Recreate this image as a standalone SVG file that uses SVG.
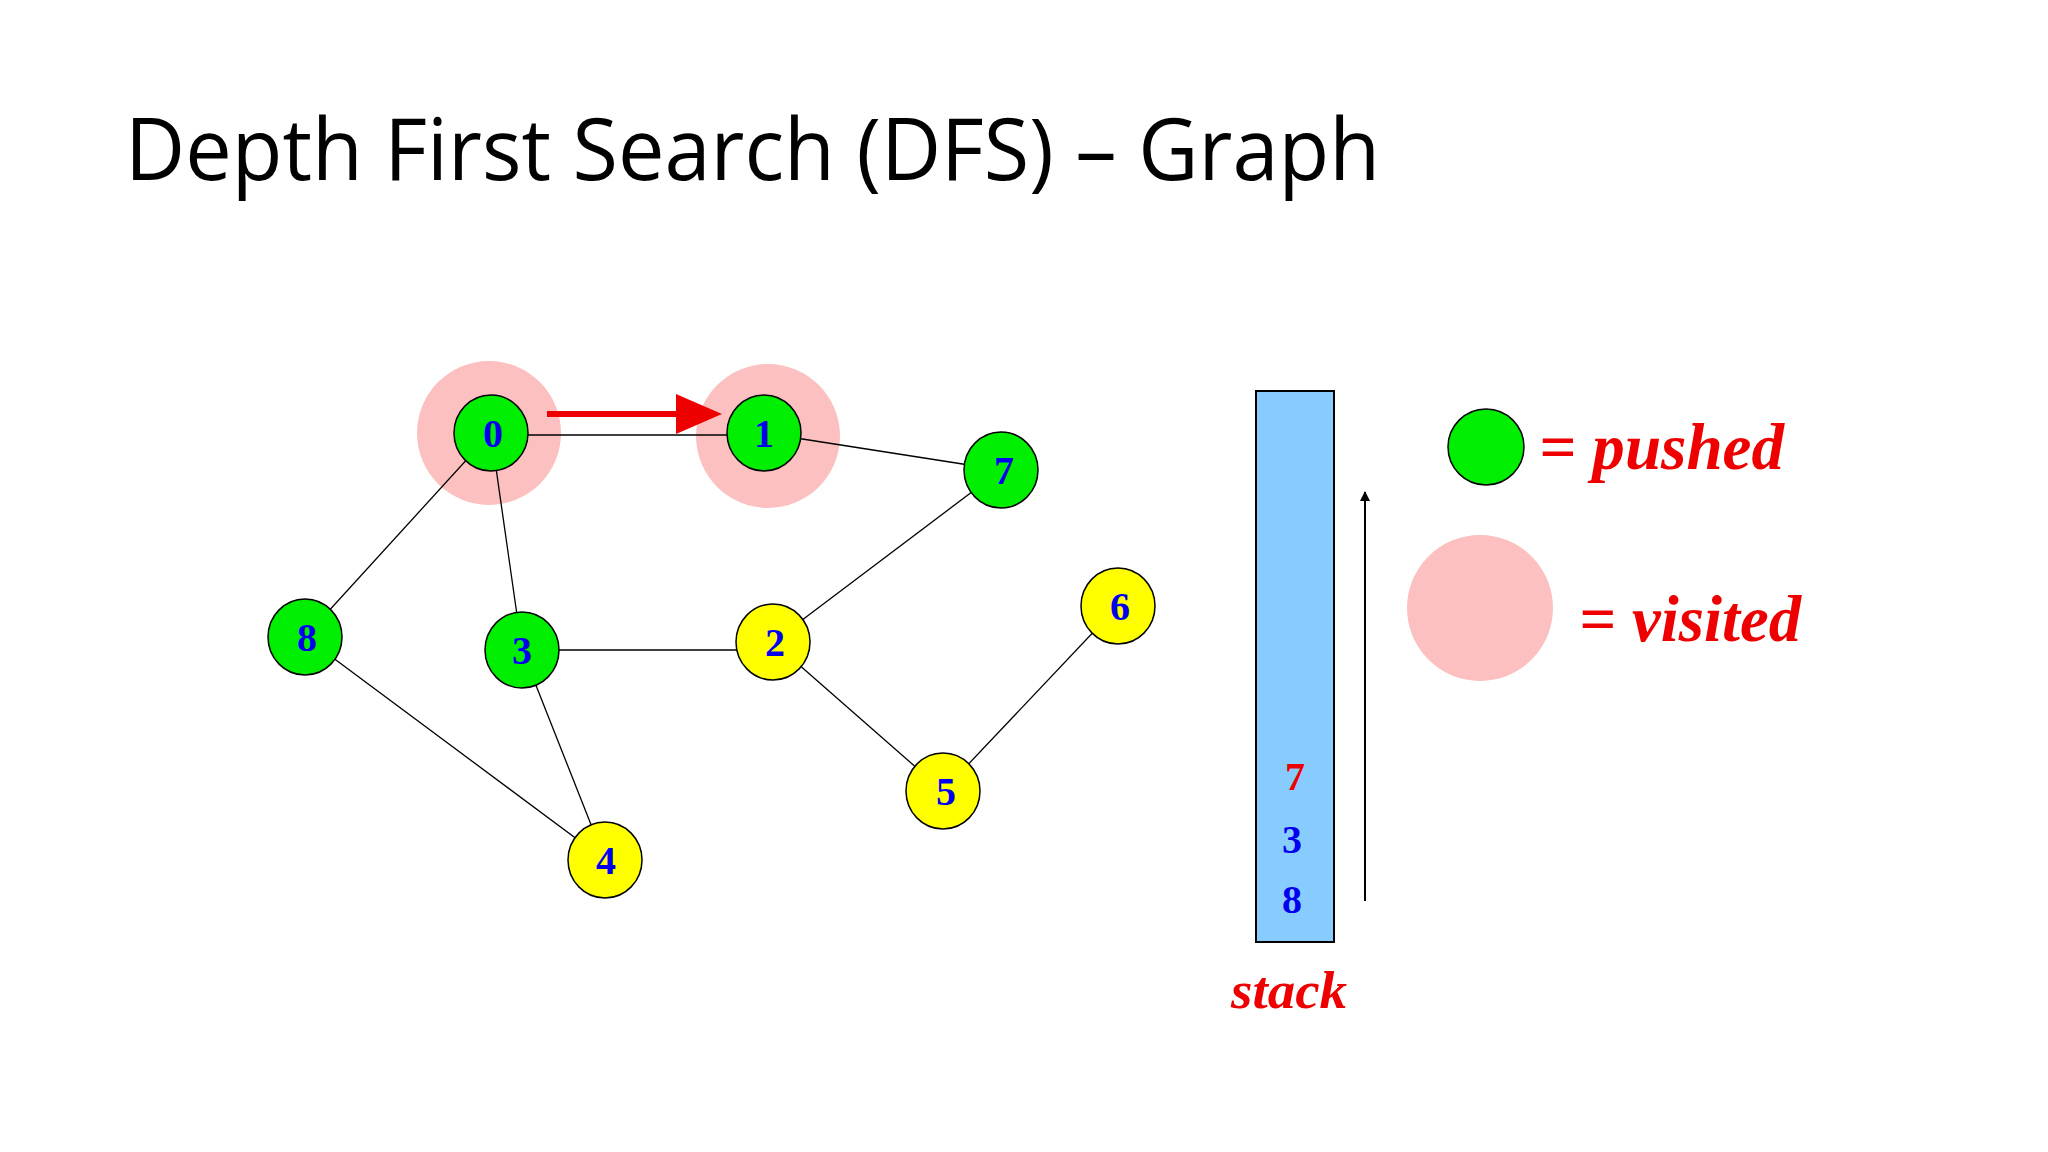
<svg xmlns="http://www.w3.org/2000/svg" width="2048" height="1152" viewBox="0 0 2048 1152">
<style>
.n{stroke:#000;stroke-width:1.5}
.g{fill:#00ee00}.y{fill:#ffff00}
.lbl{font-family:"Liberation Serif",serif;font-weight:bold;font-size:40px;fill:#0000ee;text-anchor:middle}
.e{stroke:#000;stroke-width:1.3;fill:none}
.red{font-family:"Liberation Serif",serif;font-weight:bold;font-style:italic;fill:#ee0000}
.halo{fill:#fcc0c0}
</style>
<defs><marker id="ah" markerWidth="10" markerHeight="10" refX="9" refY="5" orient="auto" markerUnits="userSpaceOnUse"><path d="M0,0 L10,5 L0,10 Z" fill="#000"/></marker></defs>
<rect width="2048" height="1152" fill="#fff"/>
<text x="125" y="180" font-family="'Open Sans','Liberation Sans',sans-serif" font-size="86" textLength="1255" lengthAdjust="spacingAndGlyphs" fill="#000">Depth First Search (DFS)  –  Graph</text>
<circle class="halo" cx="489" cy="433" r="72"/>
<circle class="halo" cx="768" cy="436" r="72"/>
<g id="edges">
<line class="e" x1="491" y1="435" x2="764" y2="435"/>
<line class="e" x1="764" y1="433" x2="1001" y2="470"/>
<line class="e" x1="491" y1="433" x2="305" y2="637"/>
<line class="e" x1="491" y1="433" x2="522" y2="650"/>
<line class="e" x1="522" y1="650" x2="773" y2="650"/>
<line class="e" x1="1001" y1="470" x2="773" y2="642"/>
<line class="e" x1="305" y1="637" x2="605" y2="860"/>
<line class="e" x1="522" y1="650" x2="605" y2="860"/>
<line class="e" x1="773" y1="642" x2="943" y2="791"/>
<line class="e" x1="1118" y1="606" x2="943" y2="791"/>
<line x1="547" y1="414" x2="680" y2="414" stroke="#ee0000" stroke-width="6"/>
<path d="M676,394 L722,414 L676,434 Z" fill="#ee0000"/>
<line x1="1365" y1="901" x2="1365" y2="492" stroke="#000" stroke-width="2" marker-end="url(#ah)"/>
</g>
<g id="n0"><ellipse class="n g" cx="491" cy="433" rx="37" ry="38"/><text class="lbl" x="493" y="447">0</text></g>
<g id="n1"><ellipse class="n g" cx="764" cy="433" rx="37" ry="38"/><text class="lbl" x="764" y="447">1</text></g>
<g id="n7"><ellipse class="n g" cx="1001" cy="470" rx="37" ry="38"/><text class="lbl" x="1004" y="484">7</text></g>
<g id="n8"><ellipse class="n g" cx="305" cy="637" rx="37" ry="38"/><text class="lbl" x="307" y="651">8</text></g>
<g id="n3"><ellipse class="n g" cx="522" cy="650" rx="37" ry="38"/><text class="lbl" x="522" y="664">3</text></g>
<g id="n2"><ellipse class="n y" cx="773" cy="642" rx="37" ry="38"/><text class="lbl" x="775" y="656">2</text></g>
<g id="n6"><ellipse class="n y" cx="1118" cy="606" rx="37" ry="38"/><text class="lbl" x="1120" y="620">6</text></g>
<g id="n5"><ellipse class="n y" cx="943" cy="791" rx="37" ry="38"/><text class="lbl" x="946" y="805">5</text></g>
<g id="n4"><ellipse class="n y" cx="605" cy="860" rx="37" ry="38"/><text class="lbl" x="606" y="874">4</text></g>
<g id="stack">
<rect x="1256" y="391" width="78" height="551" fill="#88ccff" stroke="#000" stroke-width="2"/>
<text class="lbl" x="1295" y="790" fill="#ee0000" style="fill:#ee0000">7</text>
<text class="lbl" x="1292" y="853">3</text>
<text class="lbl" x="1292" y="913">8</text>
<text class="red" x="1231" y="1008" font-size="52" textLength="116" lengthAdjust="spacingAndGlyphs">stack</text>
</g>
<g id="legend">
<circle cx="1486" cy="447" r="38" fill="#00ee00" stroke="#000" stroke-width="1.5"/>
<text class="red" x="1539" y="469" font-size="66" textLength="245" lengthAdjust="spacingAndGlyphs">= pushed</text>
<circle class="halo" cx="1480" cy="608" r="73"/>
<text class="red" x="1579" y="641" font-size="66" textLength="222" lengthAdjust="spacingAndGlyphs">= visited</text>
</g>
</svg>
